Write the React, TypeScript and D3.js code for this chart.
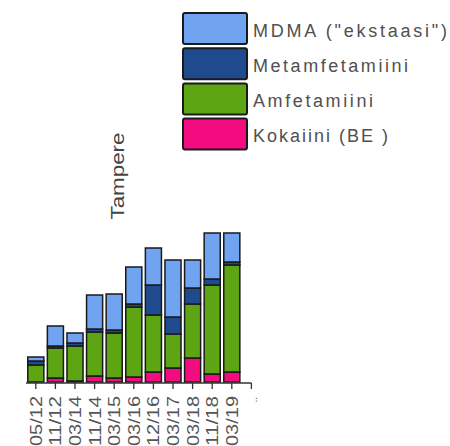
import React from "react";
import * as d3 from "d3";

const categories = ["05/12", "11/12", "03/14", "11/14", "03/15", "03/16", "12/16", "03/17", "03/18", "11/18", "03/19"];
const tickLabels = ["05/12", "11/12", "03/14", "11/14", "03/15", "03/16", "12/16", "03/17", "03/18", "11/18", "03/19", ".."];
const kokaiini = [0, 4, 1, 6, 4, 5, 10, 14, 24, 8, 10];
const amfetamiini = [17, 30, 35, 44, 45, 70, 57, 34, 54, 89, 107];
const metamfetamiini = [4, 2, 3, 3, 3, 3, 30, 17, 16, 6, 3];
const mdma = [4, 20, 10, 34, 36, 37, 37, 57, 28, 46, 29];

const seriesNames = ["Kokaiini", "Amfetamiini", "Metamfetamiini", "MDMA"];
const seriesColors = ["#f20c80", "#5ea513", "#1f4a8e", "#70a3f0"];
const legendLabels = ['MDMA ("ekstaasi")', "Metamfetamiini", "Amfetamiini", "Kokaiini (BE )"];
const legendColors = ["#70a3f0", "#1f4a8e", "#5ea513", "#f20c80"];
const legendWidths = [194, 155, 120, 135];

export default function App() {
  const W = 450, H = 446;
  const x = d3.scaleBand<string>().domain(tickLabels).range([26, 26 + 12 * 19.6]).paddingInner(0.18).paddingOuter(0.09);
  const y = d3.scaleLinear().domain([0, 150]).range([382, 232]);

  const rows = categories.map((c, i) => ({
    cat: c,
    Kokaiini: kokaiini[i],
    Amfetamiini: amfetamiini[i],
    Metamfetamiini: metamfetamiini[i],
    MDMA: mdma[i],
  }));
  const stack = d3.stack<any>().keys(seriesNames)(rows);

  const center = (l: string) => (x(l) as number) + x.bandwidth() / 2;
  const axisY = 383;

  return (
    <svg width={W} height={H} style={{ position: "absolute", left: 0, top: 0, background: "#fff" }}
      fontFamily="Liberation Sans, Arial, sans-serif">
      {/* bars */}
      {stack.map((s, si) => (
        <g key={s.key}>
          {s.map((d, i) => (
            <rect key={i}
              x={x(categories[i])}
              y={y(d[1])}
              width={x.bandwidth()}
              height={Math.max(0, y(d[0]) - y(d[1]))}
              fill={seriesColors[si]}
              stroke="#1a1a1a"
              strokeWidth={1.5}
            />
          ))}
        </g>
      ))}
      {/* axis */}
      <line x1={26} x2={center(tickLabels[tickLabels.length - 1])} y1={axisY} y2={axisY} stroke="#333" strokeWidth={1.5} />
      {tickLabels.map((l) => (
        <line key={l} x1={center(l)} x2={center(l)} y1={axisY} y2={axisY + 6} stroke="#333" strokeWidth={1.3} />
      ))}
      {tickLabels.map((l, i) => (
        <text key={"t" + l}
          transform={`translate(${center(l) + 6},${i === tickLabels.length - 1 ? 397 : 396}) rotate(-90)`}
          textAnchor="end"
          fontSize={i === tickLabels.length - 1 ? 10 : 17}
          fill="#555"
          textLength={i === tickLabels.length - 1 ? undefined : 50}
          lengthAdjust="spacingAndGlyphs"
        >{l}</text>
      ))}
      {/* y title */}
      <text transform="translate(124,176) rotate(-90)" textAnchor="middle" fontSize={19} fill="#444"
        textLength={87} lengthAdjust="spacingAndGlyphs">Tampere</text>
      {/* legend */}
      {legendLabels.map((l, i) => {
        const top = 13 + i * 35.2;
        return (
          <g key={l}>
            <rect x={183} y={top} width={64} height={31} rx={2} fill={legendColors[i]} stroke="#1a1a1a" strokeWidth={2} />
            <text x={253} y={top + 23.5} fontSize={18} fill="#505050"
              textLength={legendWidths[i]} lengthAdjust="spacing">{l}</text>
          </g>
        );
      })}
    </svg>
  );
}
